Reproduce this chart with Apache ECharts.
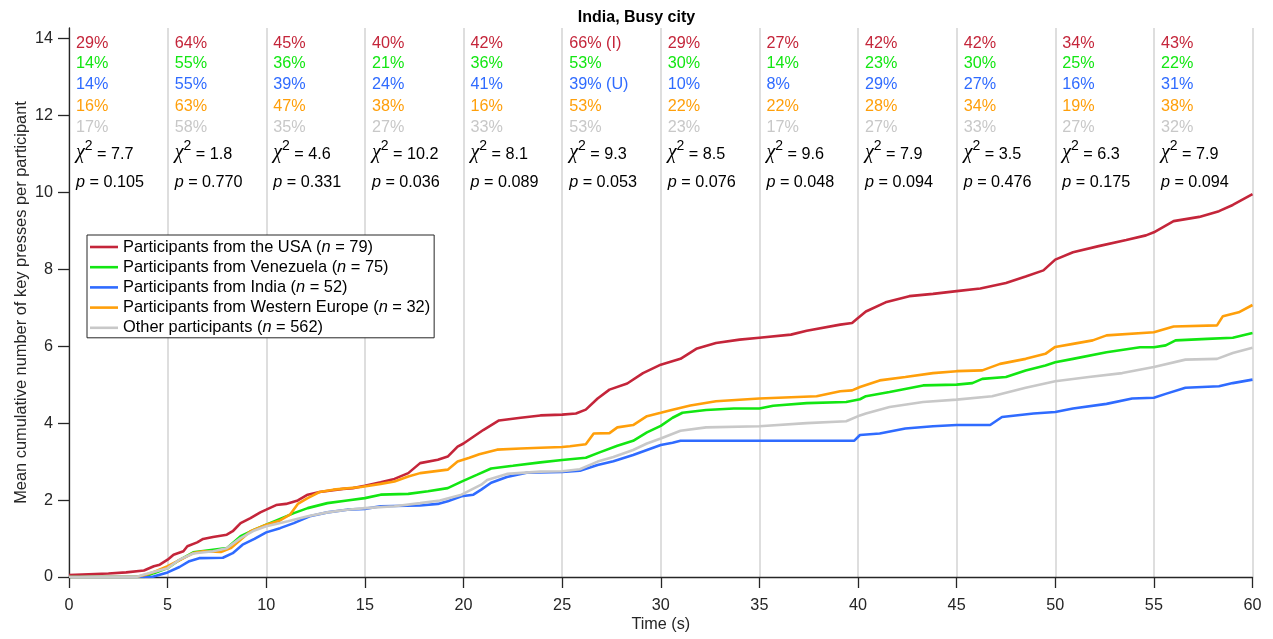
<!DOCTYPE html>
<html>
<head>
<meta charset="utf-8">
<script src="https://cdn.jsdelivr.net/npm/echarts@6/dist/echarts.min.js"></script>
<style>html,body{margin:0;padding:0;background:#fff}#c{width:1273px;height:639px}</style>
</head>
<body>
<div id="c"></div>
<script>
// ---- data ----
const seriesNames = ['Participants from the USA', 'Participants from Venezuela', 'Participants from India', 'Participants from Western Europe', 'Other participants'];
const nValues = [79, 75, 52, 32, 562];
const usa = [[0,0.05],[1,0.07],[2,0.09],[2.9,0.12],[3.8,0.17],[4.3,0.28],[4.6,0.32],[5,0.45],[5.3,0.58],[5.8,0.67],[6,0.8],[6.5,0.9],[6.8,0.99],[7.3,1.04],[8,1.1],[8.3,1.19],[8.7,1.4],[9.2,1.53],[9.7,1.68],[10,1.75],[10.5,1.87],[11,1.9],[11.6,1.99],[12.1,2.14],[12.7,2.21],[13.9,2.29],[14.4,2.31],[15,2.37],[15.8,2.46],[16.5,2.55],[17.2,2.7],[17.8,2.96],[18.7,3.05],[19.2,3.13],[19.7,3.39],[20,3.47],[21,3.82],[21.8,4.07],[22.9,4.14],[23.9,4.2],[25,4.22],[25.7,4.25],[26.2,4.35],[26.8,4.64],[27.4,4.87],[28.3,5.03],[29.1,5.3],[30,5.52],[31,5.67],[31.8,5.93],[32.8,6.08],[34,6.17],[35,6.22],[36.6,6.3],[37.4,6.4],[39.1,6.56],[39.7,6.6],[40,6.73],[40.4,6.9],[41.4,7.14],[42.6,7.3],[43.8,7.36],[45,7.43],[46.2,7.5],[47.5,7.64],[48.5,7.81],[49.4,7.97],[50,8.25],[50.9,8.44],[52.2,8.6],[53.6,8.76],[54.6,8.88],[55,8.96],[56,9.25],[57.3,9.36],[58.3,9.51],[59,9.67],[60,9.95]];
const venezuela = [[0,0],[3.8,0],[4.3,0.1],[5,0.23],[5.5,0.41],[6.3,0.64],[7,0.69],[8,0.75],[8.7,1.06],[9.4,1.23],[10,1.36],[10.7,1.51],[11.4,1.66],[12.1,1.79],[13.1,1.92],[14.1,1.99],[15,2.05],[15.8,2.14],[17.2,2.16],[18.2,2.23],[19.2,2.31],[19.9,2.48],[20.7,2.66],[21.4,2.82],[22.5,2.89],[23.9,2.98],[25,3.04],[26.2,3.1],[26.9,3.24],[27.8,3.41],[28.6,3.54],[29.3,3.76],[30,3.93],[30.6,4.14],[31.1,4.27],[32.3,4.34],[33.7,4.38],[35,4.38],[35.7,4.45],[37.4,4.52],[39.4,4.55],[40.1,4.62],[40.4,4.7],[41.6,4.81],[43.3,4.98],[45,5.0],[45.8,5.04],[46.3,5.15],[47.5,5.2],[48.5,5.37],[49.5,5.5],[50,5.58],[50.9,5.67],[52.6,5.84],[54.3,5.97],[55,5.97],[55.6,6.02],[56.1,6.15],[57.7,6.19],[59,6.22],[60,6.34]];
const india = [[0,0],[4.2,0],[4.6,0.06],[5,0.12],[5.6,0.26],[6.1,0.41],[6.6,0.49],[7.8,0.5],[8.3,0.62],[8.8,0.84],[9.4,0.99],[10,1.16],[10.7,1.27],[11.4,1.4],[12.2,1.58],[13.1,1.68],[14.1,1.75],[15,1.77],[15.8,1.84],[17.8,1.86],[18.7,1.9],[19.2,1.97],[19.9,2.1],[20.5,2.14],[20.9,2.27],[21.4,2.45],[22.2,2.6],[23.2,2.71],[25,2.73],[25.9,2.76],[26.8,2.91],[27.6,3.01],[28.6,3.17],[29.3,3.3],[30,3.43],[30.6,3.49],[31,3.54],[35,3.54],[39.8,3.54],[40.1,3.69],[41.1,3.73],[42.4,3.86],[43.8,3.92],[45,3.95],[46.7,3.95],[47.3,4.16],[48.9,4.25],[50,4.29],[50.9,4.38],[52.6,4.5],[53.9,4.64],[55,4.66],[55.6,4.76],[56.6,4.92],[58.3,4.96],[59,5.04],[60,5.13]];
const westernEurope = [[0,0],[3.4,0],[3.9,0.06],[4.4,0.15],[5,0.28],[5.5,0.41],[6.3,0.62],[6.8,0.67],[7.7,0.65],[8.2,0.75],[8.7,0.97],[9.2,1.19],[10,1.36],[10.7,1.47],[11.2,1.62],[11.6,1.9],[12.1,2.05],[12.7,2.21],[13.4,2.27],[14.8,2.34],[15.8,2.42],[16.5,2.48],[17.2,2.61],[17.8,2.7],[19.2,2.79],[19.7,3.0],[20.3,3.1],[20.8,3.19],[21.7,3.31],[22.9,3.34],[23.9,3.36],[25,3.38],[25.4,3.4],[26.2,3.45],[26.6,3.73],[27.4,3.74],[27.8,3.89],[28.6,3.95],[29.3,4.18],[30,4.27],[30.6,4.35],[31.5,4.46],[32.8,4.57],[35,4.64],[37.9,4.7],[39.1,4.83],[39.7,4.85],[40.1,4.94],[41.1,5.11],[42.4,5.2],[43.8,5.3],[45,5.35],[46.3,5.37],[47.2,5.54],[48.5,5.67],[49.5,5.8],[50,5.98],[50.9,6.06],[51.9,6.15],[52.6,6.28],[55,6.36],[56,6.51],[58.2,6.54],[58.5,6.78],[59.3,6.88],[60,7.07]];
const other = [[0,0],[3.4,0],[3.9,0.08],[5,0.23],[5.6,0.45],[6.3,0.61],[7.3,0.67],[8,0.75],[8.7,1.01],[9.4,1.21],[10,1.32],[11.1,1.45],[12.1,1.58],[13.1,1.68],[14.1,1.75],[15,1.79],[16.5,1.84],[17.8,1.92],[18.8,1.99],[19.9,2.14],[20.9,2.4],[21.2,2.52],[22.2,2.68],[23.9,2.74],[25,2.75],[25.9,2.8],[26.8,3.0],[27.6,3.12],[28.6,3.3],[29.3,3.47],[30,3.6],[31,3.8],[32.3,3.89],[35,3.92],[37.4,4.0],[39.4,4.05],[40.1,4.2],[40.4,4.25],[41.6,4.42],[43.3,4.55],[45,4.61],[46.8,4.7],[48.5,4.92],[50,5.09],[51.7,5.2],[53.4,5.3],[55,5.46],[56.6,5.65],[58.2,5.67],[59,5.82],[60,5.96]];

const binStarts = [0,5,10,15,20,25,30,35,40,45,50,55];
const usaPct = ['29%','64%','45%','40%','42%','66% (I)','29%','27%','42%','42%','34%','43%'];
const venPct = ['14%','55%','36%','21%','36%','53%','30%','14%','23%','30%','25%','22%'];
const indPct = ['14%','55%','39%','24%','41%','39% (U)','10%','8%','29%','27%','16%','31%'];
const wePct  = ['16%','63%','47%','38%','16%','53%','22%','22%','28%','34%','19%','38%'];
const othPct = ['17%','58%','35%','27%','33%','53%','23%','17%','27%','33%','27%','32%'];
const chi2 = ['7.7','1.8','4.6','10.2','8.1','9.3','8.5','9.6','7.9','3.5','6.3','7.9'];
const pValues = ['0.105','0.770','0.331','0.036','0.089','0.053','0.076','0.048','0.094','0.476','0.175','0.094'];
const xTicks = [0,5,10,15,20,25,30,35,40,45,50,55,60];
const yTicks = [0,2,4,6,8,10,12,14];

// ---- styling ----
const FONT = "'Liberation Sans', Arial, Helvetica, sans-serif";
const colors = ['#C4253A', '#12E612', '#2F6BFF', '#FF9F0A', '#C8C8C8'];
const seriesData = [usa, venezuela, india, westernEurope, other];
// y positions (data units) of the annotation rows
const rowY = [13.87, 13.34, 12.79, 12.23, 11.69, 11.08, 10.26];

const lineSeries = seriesNames.map((n, i) => ({
  name: n, type: 'line', data: seriesData[i], showSymbol: false, symbol: 'none',
  lineStyle: { color: colors[i], width: 2.6 }, itemStyle: { color: colors[i] },
  z: 3 + i, silent: true, animation: false
}));

function textRow(texts, y, color) {
  return {
    type: 'scatter', symbolSize: 0, silent: true, animation: false, z: 10,
    itemStyle: { opacity: 1 },
    data: binStarts.map((b) => [b, y]),
    label: {
      show: true, position: 'right', distance: 7,
      fontFamily: FONT, fontSize: 16.2, color: color,
      formatter: (p) => texts[p.dataIndex]
    }
  };
}
const pctRows = [usaPct, venPct, indPct, wePct, othPct].map((t, i) => textRow(t, rowY[i], colors[i]));

const chiRow = {
  type: 'scatter', symbolSize: 0, silent: true, animation: false, z: 10,
  itemStyle: { opacity: 1 },
  data: binStarts.map((b) => [b, rowY[5]]),
  label: {
    show: true, position: 'right', distance: 7, color: '#000',
    formatter: (p) => '{chi|χ}{sup|2}{t| = ' + chi2[p.dataIndex] + '}',
    rich: {
      chi: { fontFamily: "'Liberation Serif', 'DejaVu Serif', serif", fontStyle: 'italic', fontSize: 20, color: '#000', verticalAlign: 'bottom', lineHeight: 24 },
      sup: { fontFamily: FONT, fontSize: 14, color: '#000', verticalAlign: 'top', lineHeight: 24 },
      t: { fontFamily: FONT, fontSize: 16.2, color: '#000', verticalAlign: 'bottom', lineHeight: 22 }
    }
  }
};
const pRow = {
  type: 'scatter', symbolSize: 0, silent: true, animation: false, z: 10,
  itemStyle: { opacity: 1 },
  data: binStarts.map((b) => [b, rowY[6]]),
  label: {
    show: true, position: 'right', distance: 7, color: '#000',
    formatter: (p) => '{i|p}{t| = ' + pValues[p.dataIndex] + '}',
    rich: {
      i: { fontFamily: FONT, fontStyle: 'italic', fontSize: 16.2, color: '#000' },
      t: { fontFamily: FONT, fontSize: 16.2, color: '#000' }
    }
  }
};

const chart = echarts.init(document.getElementById('c'), null, { renderer: 'canvas' });
chart.setOption({
  animation: false,
  backgroundColor: '#fff',
  title: {
    text: 'India, Busy city', left: 'center', top: 9, padding: [0, 0, 0, 48],
    textStyle: { fontFamily: FONT, fontSize: 16, fontWeight: 'bold', color: '#000', lineHeight: 18 }
  },
  grid: { left: 69, right: 20.5, top: 28, bottom: 62, containLabel: false },
  legend: {
    data: seriesNames, orient: 'vertical', left: 87, top: 235,
    icon: 'rect', itemWidth: 28, itemHeight: 2.6, itemGap: 2.2,
    padding: [3, 4, 1, 3], borderColor: '#262626', borderWidth: 1, backgroundColor: '#fff',
    selectedMode: false,
    formatter: (name) => name + ' ({i|n} = ' + nValues[seriesNames.indexOf(name)] + ')',
    textStyle: {
      fontFamily: FONT, fontSize: 16.4, color: '#000', lineHeight: 18,
      rich: { i: { fontFamily: FONT, fontStyle: 'italic', fontSize: 16.4, color: '#000', lineHeight: 18 } }
    }
  },
  xAxis: {
    type: 'value', min: 0, max: 60, interval: 5,
    name: 'Time (s)', nameLocation: 'middle', nameGap: 40, nameMoveOverlap: false,
    nameTextStyle: { fontFamily: FONT, fontSize: 16.2, color: '#262626' },
    axisLine: { show: true, onZero: false, lineStyle: { color: '#262626', width: 1.3 } },
    axisTick: { show: true, inside: false, length: 11, lineStyle: { color: '#262626', width: 1.3 } },
    axisLabel: { fontFamily: FONT, fontSize: 16.2, color: '#262626', margin: 21, showMinLabel: true, showMaxLabel: true },
    splitLine: { show: true, lineStyle: { color: '#D6D6D6', width: 1.6 } }
  },
  yAxis: {
    type: 'value', min: 0, max: 14.27,
    name: 'Mean cumulative number of key presses per participant', nameLocation: 'middle', nameGap: 40, nameMoveOverlap: false,
    nameTextStyle: { fontFamily: FONT, fontSize: 16.4, color: '#262626' },
    axisLine: { show: true, onZero: false, lineStyle: { color: '#262626', width: 1.3 } },
    axisTick: { show: true, inside: false, length: 11, customValues: yTicks, lineStyle: { color: '#262626', width: 1.3 } },
    axisLabel: { fontFamily: FONT, fontSize: 16.2, color: '#262626', margin: 16, customValues: yTicks },
    splitLine: { show: false }
  },
  series: [...lineSeries, ...pctRows, chiRow, pRow]
});
</script>
</body>
</html>
